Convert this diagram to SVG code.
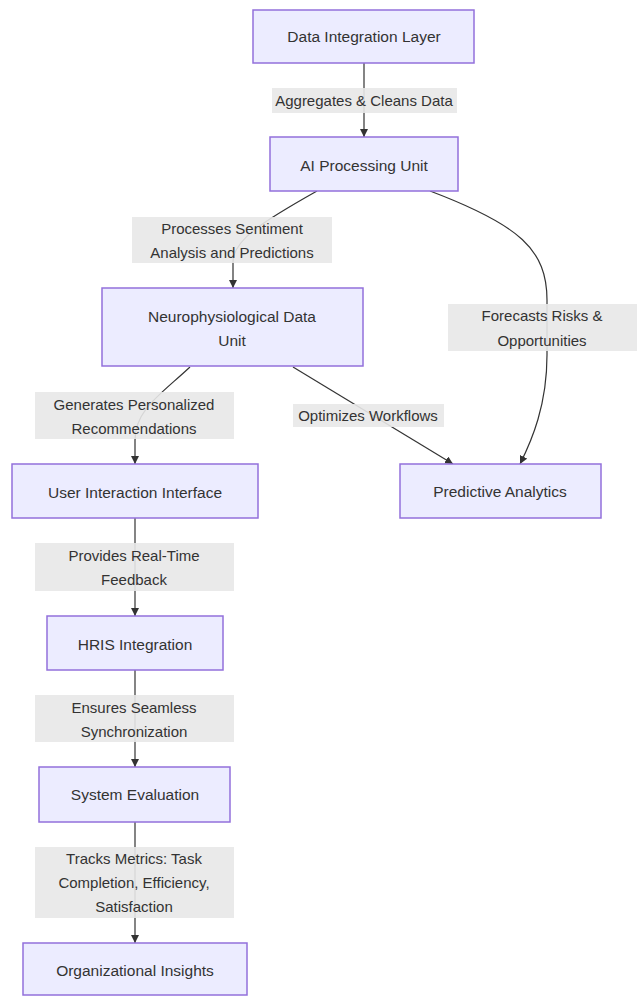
<svg xmlns="http://www.w3.org/2000/svg" width="637" height="996" viewBox="0 0 637 996">
<style>
.node rect{fill:#ECECFF;stroke:#9370DB;stroke-width:1.5}
text{font-family:"Liberation Sans",Arial,sans-serif;font-size:15.5px;fill:#333;text-anchor:middle;dominant-baseline:central}
.lbl text{font-size:15px}
.edge{fill:none;stroke:#333;stroke-width:1.2}
.lbl rect{fill:#e8e8e8;opacity:0.9}
</style>
<defs>
<marker id="arr" viewBox="0 0 10 10" refX="10" refY="5" markerWidth="8" markerHeight="8" markerUnits="userSpaceOnUse" orient="auto">
<path d="M0,0 L10,5 L0,10 z" fill="#333"/>
</marker>
</defs>
<rect width="637" height="996" fill="#fff"/>
<g id="connectors">
<path class="edge" d="M364,63 L364,137" marker-end="url(#arr)"/>
<path class="edge" d="M317,191 C262,222 233,240 233,262 L233,288" marker-end="url(#arr)"/>
<path class="edge" d="M430,191 C520,225 547,250 547,300 L547,355 C547,405 532,440 520,464" marker-end="url(#arr)"/>
<path class="edge" d="M293,367 L453,464" marker-end="url(#arr)"/>
<path class="edge" d="M190,367 C160,395 135,410 135,440 L135,464" marker-end="url(#arr)"/>
<path class="edge" d="M135,518 L135,616" marker-end="url(#arr)"/>
<path class="edge" d="M135,670 L135,767" marker-end="url(#arr)"/>
<path class="edge" d="M135,822 L135,943" marker-end="url(#arr)"/>
<g class="lbl">
<rect x="272" y="88" width="185" height="25"/>
<text x="364" y="100">Aggregates &amp; Cleans Data</text>
<rect x="132" y="217" width="200" height="46"/>
<text x="232" y="228">Processes Sentiment</text>
<text x="232" y="252">Analysis and Predictions</text>
<rect x="448" y="304" width="189" height="47"/>
<text x="542" y="315">Forecasts Risks &amp;</text>
<text x="542" y="340">Opportunities</text>
<rect x="293" y="404" width="151" height="23"/>
<text x="368" y="415">Optimizes Workflows</text>
<rect x="35" y="392" width="199" height="47"/>
<text x="134" y="404">Generates Personalized</text>
<text x="134" y="428">Recommendations</text>
<rect x="35" y="543" width="199" height="48"/>
<text x="134" y="555">Provides Real-Time</text>
<text x="134" y="579">Feedback</text>
<rect x="35" y="695" width="199" height="47"/>
<text x="134" y="707">Ensures Seamless</text>
<text x="134" y="731">Synchronization</text>
<rect x="35" y="847" width="199" height="71"/>
<text x="134" y="858">Tracks Metrics: Task</text>
<text x="134" y="882">Completion, Efficiency,</text>
<text x="134" y="906">Satisfaction</text>
</g>
</g>
<g id="n1" class="node"><rect x="253" y="10" width="221" height="53"/><text x="364" y="36">Data Integration Layer</text></g>
<g id="n2" class="node"><rect x="270" y="137" width="188" height="54"/><text x="364" y="165">AI Processing Unit</text></g>
<g id="n3" class="node"><rect x="102" y="288" width="261" height="78"/><text x="232" y="316">Neurophysiological Data</text><text x="232" y="340">Unit</text></g>
<g id="n4" class="node"><rect x="400" y="464" width="201" height="54"/><text x="500" y="491">Predictive Analytics</text></g>
<g id="n5" class="node"><rect x="12" y="464" width="246" height="54"/><text x="135" y="492">User Interaction Interface</text></g>
<g id="n6" class="node"><rect x="47" y="616" width="176" height="54"/><text x="135" y="644">HRIS Integration</text></g>
<g id="n7" class="node"><rect x="39" y="767" width="191" height="55"/><text x="135" y="794">System Evaluation</text></g>
<g id="n8" class="node"><rect x="23" y="943" width="224" height="52"/><text x="135" y="970">Organizational Insights</text></g>
</svg>
